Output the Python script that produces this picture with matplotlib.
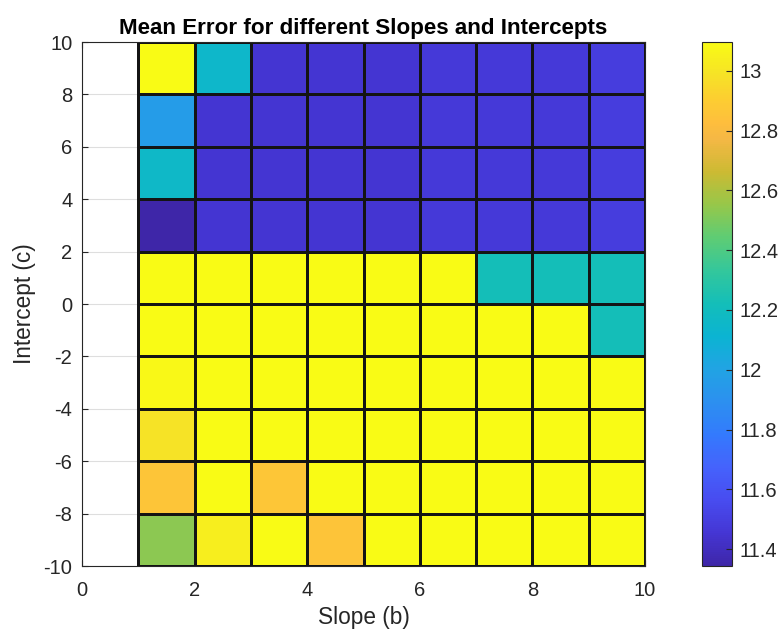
import numpy as np
import matplotlib
matplotlib.use("Agg")
import matplotlib.pyplot as plt
from matplotlib.colors import LinearSegmentedColormap

plt.rcParams['font.family'] = ['Liberation Sans', 'DejaVu Sans']
plt.rcParams['axes.unicode_minus'] = False

# ---- data ----
slope_edges = [1, 2, 3, 4, 5, 6, 7, 8, 9, 10]
intercept_edges = [-10, -8, -6, -4, -2, 0, 2, 4, 6, 8, 10]
# rows from bottom (c=-10..-8) to top (c=8..10), columns slope 1..9
row_m10 = [12.53, 13.04, 13.09, 12.85, 13.09, 13.09, 13.09, 13.09, 13.09]
row_m8 = [12.86, 13.09, 12.87, 13.09, 13.09, 13.09, 13.09, 13.09, 13.09]
row_m6 = [12.99, 13.09, 13.09, 13.09, 13.09, 13.09, 13.09, 13.09, 13.09]
row_m4 = [13.08, 13.09, 13.09, 13.09, 13.09, 13.09, 13.09, 13.09, 13.09]
row_m2 = [13.09, 13.09, 13.09, 13.09, 13.09, 13.09, 13.09, 13.09, 12.22]
row_0 = [13.09, 13.09, 13.09, 13.09, 13.09, 13.09, 12.22, 12.22, 12.22]
row_2 = [11.344, 11.45, 11.45, 11.45, 11.45, 11.47, 11.47, 11.47, 11.49]
row_4 = [12.16, 11.45, 11.45, 11.45, 11.45, 11.47, 11.47, 11.47, 11.49]
row_6 = [11.96, 11.45, 11.45, 11.45, 11.45, 11.47, 11.47, 11.47, 11.49]
row_8 = [13.096, 12.15, 11.45, 11.45, 11.45, 11.47, 11.47, 11.47, 11.49]
cbar_ticks = [11.4, 11.6, 11.8, 12, 12.2, 12.4, 12.6, 12.8, 13]
x_ticks = [0, 2, 4, 6, 8, 10]
y_ticks = [-10, -8, -6, -4, -2, 0, 2, 4, 6, 8, 10]

Z = np.array([row_m10, row_m8, row_m6, row_m4, row_m2, row_0, row_2, row_4, row_6, row_8])

# parula-like colormap
anchors = [
    (0.000, (0.2422, 0.1504, 0.6603)),
    (0.063, (0.2704, 0.2138, 0.8346)),
    (0.125, (0.2813, 0.2985, 0.9397)),
    (0.188, (0.2710, 0.3860, 0.9898)),
    (0.251, (0.2006, 0.4803, 0.9906)),
    (0.314, (0.1716, 0.5655, 0.9393)),
    (0.376, (0.1288, 0.6408, 0.8910)),
    (0.439, (0.0433, 0.7039, 0.8242)),
    (0.502, (0.0770, 0.7468, 0.7224)),
    (0.565, (0.2061, 0.7808, 0.6065)),
    (0.627, (0.3671, 0.8016, 0.4563)),
    (0.690, (0.5886, 0.7813, 0.2902)),
    (0.753, (0.8008, 0.7300, 0.2000)),
    (0.816, (0.9600, 0.7200, 0.2700)),
    (0.847, (0.9950, 0.7450, 0.2400)),
    (0.894, (0.9900, 0.8100, 0.1900)),
    (0.941, (0.9650, 0.8900, 0.1500)),
    (1.000, (0.9769, 0.9839, 0.0805)),
]
parula = LinearSegmentedColormap.from_list('parula', anchors, N=256)

W, H = 779, 629
fig = plt.figure(figsize=(W / 100, H / 100), dpi=100)
ax = fig.add_axes([82 / W, (H - 566) / H, (645 - 82) / W, (566 - 42) / H])
cax = fig.add_axes([702 / W, (H - 566) / H, 30.5 / W, (566 - 42) / H])

vmin, vmax = Z.min(), Z.max()
mesh = ax.pcolormesh(slope_edges, intercept_edges, Z, cmap=parula, vmin=vmin, vmax=vmax,
                     edgecolors='#141414', linewidth=0.85, zorder=2)

ax.set_xlim(0, 10)
ax.set_ylim(-10, 10)
ax.set_xticks(x_ticks)
ax.set_yticks(y_ticks)
ax.grid(True, color='#262626', alpha=0.15, linewidth=0.8, zorder=0)
ax.set_axisbelow(True)
ax.tick_params(direction='in', top=True, right=True, length=4, labelsize=14.5,
               labelcolor='#262626', color='#262626', width=0.8)
ax.tick_params(axis='x', pad=11)
ax.tick_params(axis='y', pad=7)
for s in ax.spines.values():
    s.set_color('#262626')
    s.set_linewidth(0.8)
ax.set_xlabel('Slope (b)', fontsize=16.3, color='#262626', labelpad=4)
ax.set_ylabel('Intercept (c)', fontsize=16.3, color='#262626', labelpad=5)
ax.set_title('Mean Error for different Slopes and Intercepts', fontsize=16.1,
             fontweight='bold', color='black', pad=6)

cb = fig.colorbar(mesh, cax=cax, ticks=cbar_ticks)
cb.ax.set_yticklabels([f'{t:g}' for t in cbar_ticks])
cb.ax.tick_params(direction='in', length=4, labelsize=14.5, labelcolor='#262626',
                  color='#262626', width=0.8, pad=5)
cb.outline.set_edgecolor('#262626')
cb.outline.set_linewidth(0.8)

fig.savefig('out.png', dpi=100)
